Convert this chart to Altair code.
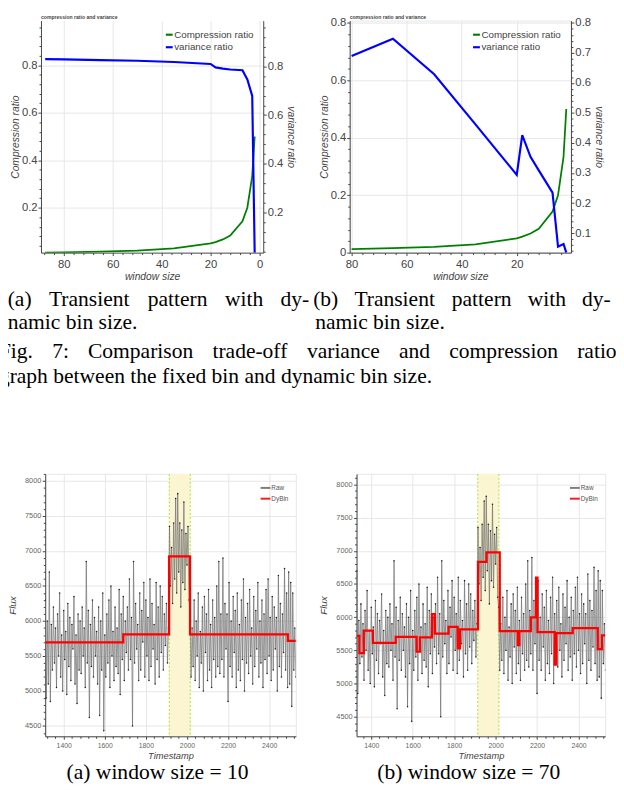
import altair as alt
import pandas as pd

# ---------------- Fig. 7 (a): compression ratio vs variance ratio ----------------
win_a = [89, 80, 65, 50, 35, 20, 18, 15, 12, 7, 5, 3, 2]
comp_a = [0.0112, 0.0125, 0.0154, 0.0200, 0.0286, 0.0500, 0.0556, 0.0667, 0.0833, 0.1429, 0.2000, 0.3333, 0.5000]
var_a = [0.830, 0.829, 0.826, 0.823, 0.818, 0.810, 0.796, 0.791, 0.787, 0.784, 0.746, 0.679, 0.035]
# ---------------- Fig. 7 (b) ----------------
win_b = [80, 65, 50, 35, 20, 18, 15, 12, 7, 5, 3, 2]
comp_b = [0.0125, 0.0154, 0.0200, 0.0286, 0.0500, 0.0556, 0.0667, 0.0833, 0.1429, 0.2000, 0.3333, 0.5000]
var_b = [0.690, 0.747, 0.629, 0.462, 0.294, 0.426, 0.354, 0.309, 0.235, 0.055, 0.064, 0.035]
series_names = ["Compression ratio", "variance ratio"]
series_colors = ["#008000", "#0000ff"]

# ---------------- Fig. 8: raw flux (timestamps 1310, 1315, ...) ----------------
raw_start = 1310
raw_step = 5
raw_flux = [
    6300, 4900, 6000, 5100, 6700, 4850, 5950, 5300, 6200, 5400,
    5900, 5050, 6100, 5500, 6400, 5200, 5800, 5000, 6150, 5450,
    5850, 4950, 6250, 5350, 6050, 5150, 5950, 5600, 6350, 5100,
    5800, 4820, 6100, 5300, 6000, 5250, 6200, 5500, 5900, 5050,
    6850, 5400, 6150, 4620, 5950, 5350, 6300, 5200, 6050, 5500,
    5850, 5100, 6200, 4650, 6000, 5300, 6400, 4430, 5800, 5200,
    6100, 5400, 6300, 5050, 6500, 5500, 5850, 5150, 6200, 5350,
    5900, 5250, 6450, 4950, 6100, 5450, 6350, 5150, 6000, 5550,
    6200, 5300, 6600, 5450, 6050, 4500, 6850, 5400, 6250, 5600,
    5950, 5150, 6400, 5300, 6150, 5700, 6550, 5200, 6300, 5500,
    6050, 5150, 6600, 5350, 6250, 5600, 5950, 5100, 6550, 5450,
    6200, 5200, 6500, 5550, 6350, 5300, 6100, 5650, 6250, 5400,
    5900,
    7350, 6500, 7050, 6250, 7400, 6600, 7750, 6400, 7820, 6700,
    7400, 6200, 7300, 6550, 7700, 6450, 7250, 6800, 7350, 6300,
    6150, 5200, 5900, 5350, 6300, 5150, 6000, 5500, 6400, 5050,
    5850, 5400, 6200, 5000, 6350, 5550, 6100, 5150, 6450, 5300,
    5950, 5050, 6300, 5450, 6050, 5200, 6500, 5350, 6850, 5250,
    6100, 5450, 6900, 5200, 6250, 5600, 6100, 4850, 6550, 5350,
    6000, 5200, 6350, 5550, 6150, 5050, 6400, 5300, 5950, 5150,
    6300, 5450, 6600, 5000, 6050, 5400, 6250, 5250, 6450, 5500,
    5900, 5100, 6350, 5350, 6150, 5600, 6550, 5200, 6000, 5400,
    6300, 5050, 6100, 5450, 6450, 5250, 6600, 5500, 6050, 5150,
    6350, 5300, 6200, 5600, 6050, 5000, 6650, 5350, 6250, 5200,
    6100, 5550, 6750, 5300, 6400, 5050,
    6700, 5100, 6550, 4780, 6400, 5300, 5900, 5200,
]
raw_ts = [raw_start + raw_step * i for i in range(len(raw_flux))]
band_edges = [1914, 2016]
# DyBin, window size = 10
bin_ts_a = [1310, 1690, 1913, 2015, 2491, 2530]
bin_val_a = [5694, 5809, 6924, 5809, 5716, 5716]
# DyBin, window size = 70
bin_ts_b = [1329, 1343, 1364, 1408, 1518, 1619, 1635, 1693, 1707, 1773, 1817, 1828, 1915,
            1956, 2020, 2107, 2115, 2170, 2195, 2202, 2285, 2293, 2372, 2493, 2513, 2530]
bin_val_b = [5717, 5457, 5796, 5614, 5702, 5481, 5694, 6047, 5752, 5855, 5531, 5816, 6832,
             6975, 5790, 5580, 5790, 5997, 6596, 5776, 5285, 5761, 5835, 5517, 5727, 5727]

# ---------------- texts ----------------
panel_title = "compression ratio and variance"
cap_a1 = "(a) Transient pattern with dy-"
cap_b1 = "(b) Transient pattern with dy-"
cap_2 = "namic bin size."
fig_l1 = "Fig. 7: Comparison trade-off variance and compression ratio"
fig_l2 = "graph between the fixed bin and dynamic bin size."
cap_c = "(a) window size = 10"
cap_d = "(b) window size = 70"

FONT = "Liberation Sans"
SERIF = "Liberation Serif"
AX = "#444444"
GRID = "#e6e6e6"


def cond(test, a, b):
    return {"condition": {"test": test, "value": a}, "value": b}


def mult(step):
    return f"abs(datum.value / {step} - round(datum.value / {step})) < 0.000001"


def make_axis(values, step, fmt, title, orient, grid, lab_size, title_size,
              lab_color=AX, tmaj=3, tmin=2, lab_pad=1, title_pad=2, offset=0):
    test = mult(step)
    return alt.Axis(
        values=values, orient=orient, title=title, offset=offset,
        labelExpr=f"{test} ? {fmt} : ''",
        tickSize=cond(test, tmaj, tmin),
        grid=grid, gridColor=GRID, gridOpacity=cond(test, 1, 0),
        domainColor=AX, tickColor=AX, tickWidth=1, domainWidth=1,
        labelColor=lab_color, labelFontSize=lab_size, labelFont=FONT,
        labelPadding=lab_pad, labelFlush=False, labelOverlap=False,
        titleColor=AX, titleFont=FONT, titleFontSize=title_size,
        titleFontStyle="italic", titleFontWeight="normal", titlePadding=title_pad,
    )


FMT1 = "(datum.value == 0 ? '0' : format(datum.value, '.1f'))"
FMTD = "format(datum.value, 'd')"


def ratio_panel(win, comp, var, xdom, xvals, yl_dom, yl_vals, yl_step,
                yr_dom, yr_vals, yr_step, lx, ly, w, h, shift, stroke):
    df = pd.DataFrame({"win": win, "comp": comp, "var": var})
    xax = make_axis(xvals, 20, FMTD, "window size", "bottom", True, 11.5, 10.5,
                    lab_pad=3, title_pad=2)
    x = alt.X("win:Q", scale=alt.Scale(domain=xdom, range=[-shift, w], nice=False, zero=False), axis=xax)
    color = alt.Color(
        "series:N",
        scale=alt.Scale(domain=series_names, range=series_colors),
        legend=alt.Legend(orient="none", legendX=lx, legendY=ly, title=None,
                          symbolType="stroke", symbolSize=49, symbolStrokeWidth=2.2,
                          labelFontSize=10, labelFont=FONT, labelColor=AX,
                          labelOffset=0, rowPadding=2.8, padding=0, labelLimit=300),
    )
    green = alt.Chart(df).transform_calculate(series="'Compression ratio'").mark_line(
        strokeWidth=1.8, clip=True
    ).encode(
        x=x,
        y=alt.Y("comp:Q", scale=alt.Scale(domain=yl_dom, nice=False, zero=False),
                axis=make_axis(yl_vals, yl_step, FMT1, "Compression ratio", "left", True, 11.5, 10.5,
                               lab_pad=1, title_pad=1, offset=shift)),
        color=color,
    )
    blue = alt.Chart(df).transform_calculate(series="'variance ratio'").mark_line(
        strokeWidth=2.2, clip=True
    ).encode(
        x=x,
        y=alt.Y("var:Q", scale=alt.Scale(domain=yr_dom, nice=False, zero=False),
                axis=make_axis(yr_vals, yr_step, FMT1, "variance ratio", "right", False, 11.5, 10.5,
                               lab_pad=1, title_pad=3)),
        color=color,
    )
    title = alt.Chart(pd.DataFrame({"t": [panel_title]})).mark_text(
        align="left", baseline="middle", fontSize=5.2, fontWeight="bold", color=AX, font=FONT
    ).encode(x=alt.value(-shift), y=alt.value(-3.6), text="t:N")
    return alt.layer(green, blue, title).resolve_scale(y="independent").properties(
        width=w, height=h, view=alt.ViewBackground(stroke=stroke)
    )


def flux_panel(bin_ts, bin_val, xdom, ydom, xvals, yvals, lx, ly, w, h, caption, cap_x, cap_y):
    raw_df = pd.DataFrame({"ts": raw_ts, "flux": raw_flux, "kind": "Raw"})
    bin_df = pd.DataFrame({"ts": bin_ts, "flux": bin_val, "kind": "DyBin"})
    band_df = pd.DataFrame({"start": [band_edges[0]], "end": [band_edges[1]]})
    edge_df = pd.DataFrame({"ts": band_edges})
    xsc = alt.Scale(domain=xdom, nice=False, zero=False)
    ysc = alt.Scale(domain=ydom, nice=False, zero=False)
    xax = make_axis(xvals, 200, FMTD, "Timestamp", "bottom", True, 7, 9.5, lab_color="#666666",
                    tmaj=3, tmin=2, lab_pad=2, title_pad=3)
    yax = make_axis(yvals, 500, FMTD, "Flux", "left", True, 7.5, 10, lab_color="#666666",
                    tmaj=3, tmin=2, lab_pad=1.5, title_pad=7.5)
    color = alt.Color(
        "kind:N",
        scale=alt.Scale(domain=["Raw", "DyBin"], range=["#707070", "#ff0000"]),
        legend=alt.Legend(orient="none", legendX=lx, legendY=ly, title=None,
                          symbolType="stroke", symbolSize=100, symbolStrokeWidth=2,
                          labelFontSize=6.5, labelFont=FONT, labelColor="#555555",
                          labelOffset=0, rowPadding=1, padding=0),
    )
    band = alt.Chart(band_df).mark_rect(color="#fbf5d2", clip=True).encode(
        x=alt.X("start:Q", scale=xsc, axis=xax), x2="end:Q"
    )
    edges = alt.Chart(edge_df).mark_rule(color="#a6e22e", strokeDash=[2, 2], strokeWidth=1).encode(
        x=alt.X("ts:Q", scale=xsc, axis=xax)
    )
    line = alt.Chart(raw_df).mark_line(strokeWidth=0.8, opacity=0.9, clip=True).encode(
        x=alt.X("ts:Q", scale=xsc, axis=xax),
        y=alt.Y("flux:Q", scale=ysc, axis=yax),
        color=color,
    )
    pts = alt.Chart(raw_df).mark_circle(size=2.5, color="#111111", opacity=0.9, clip=True).encode(
        x=alt.X("ts:Q", scale=xsc, axis=xax),
        y=alt.Y("flux:Q", scale=ysc, axis=yax),
    )
    dyb = alt.Chart(bin_df).mark_line(strokeWidth=2.3, interpolate="step-after", clip=True).encode(
        x=alt.X("ts:Q", scale=xsc, axis=xax),
        y=alt.Y("flux:Q", scale=ysc, axis=yax),
        color=color,
    )
    cap = alt.Chart(pd.DataFrame({"t": [caption]})).mark_text(
        align="center", baseline="middle", font=SERIF, fontSize=22, color="black"
    ).encode(x=alt.value(cap_x), y=alt.value(cap_y), text="t:N")
    return alt.layer(band, edges, line, pts, dyb, cap).properties(width=w, height=h)


# ---------------- caption layout helpers (Times metrics) ----------------
TIMES = {" ": 250, "(": 333, ")": 333, "-": 333, ".": 250, ":": 278, "=": 564,
         "a": 444, "b": 500, "c": 444, "d": 500, "e": 444, "f": 333, "g": 500, "h": 500,
         "i": 278, "j": 278, "k": 500, "l": 278, "m": 778, "n": 500, "o": 500, "p": 500,
         "q": 500, "r": 333, "s": 389, "t": 278, "u": 500, "v": 500, "w": 722, "x": 500,
         "y": 500, "z": 444, "C": 667, "F": 556, "T": 611}


def tw(s, size):
    return sum(TIMES.get(c, 500) for c in s) * size / 1000.0


def justified(line, left, right, y, size):
    words = line.split(" ")
    widths = [tw(wd, size) for wd in words]
    gap = (right - left - sum(widths)) / (len(words) - 1)
    out, x = [], left
    for wd, wdt in zip(words, widths):
        out.append((wd, x, y))
        x += wdt + gap
    return out


X0 = 44.3          # reference x of the layout origin (left edge of panel (a) bottom)
CAP1_TOP = 281.3   # reference y of the caption block top
CAP1_H = 189.5
W1 = 560
FS = 22


def rx(v):
    return v - X0


def ry(v):
    return v - CAP1_TOP


items = []
items += justified(cap_a1, rx(6), rx(314), ry(298), FS)
items += justified(cap_b1, rx(318), rx(622), ry(298), FS)
items += [(cap_2, rx(6), ry(321)), (cap_2, rx(320), ry(321))]
items += justified(fig_l1, rx(-3), rx(628), ry(351), FS)
items += [(fig_l2, rx(-3), ry(376))]
df_cap = pd.DataFrame(items, columns=["t", "x", "y"])
cap1 = alt.Chart(df_cap).mark_text(
    align="left", baseline="middle", font=SERIF, fontSize=FS, color="black"
).encode(
    x=alt.X("x:Q", scale=alt.Scale(domain=[0, W1], range=[0, W1]), axis=None),
    y=alt.Y("y:Q", scale=alt.Scale(domain=[0, CAP1_H], range=[0, CAP1_H]), axis=None),
    text="t:N",
).properties(width=W1, height=CAP1_H, view=alt.ViewBackground(stroke=None))

# ---------------- panels ----------------
x_ticks_a = list(range(0, 89, 4))
x_ticks_b = list(range(4, 81, 4))
y04 = [round(0.04 * k, 2) for k in range(1, 25)]
y04b = [round(0.04 * k, 2) for k in range(0, 21)]
y02b = [round(0.02 * k, 2) for k in range(2, 41)]

A = ratio_panel(win_a, comp_a, var_a, [89.3, -1.5], x_ticks_a,
                [0.011, 0.988], y04, 0.2, [0.035, 0.988], y04, 0.2,
                121.7, 9.4, 222.7, 237, 4.3, None)
B = ratio_panel(win_b, comp_b, var_b, [80.7, 0.3], x_ticks_b,
                [0.0, 0.808], y04b, 0.2, [0.035, 0.8075], y02b, 0.1,
                124.5, 9.4, 226, 237, 0, GRID)
C = flux_panel(bin_ts_a, bin_val_a, [1310, 2530], [4352, 8102],
               list(range(1320, 2530, 40)), list(range(4400, 8101, 100)), 219, 8.3, 256, 268,
               cap_c, 159 - 44.3, 779.5 - 475)
D = flux_panel(bin_ts_b, bin_val_b, [1329, 2529], [4205, 8158],
               list(range(1360, 2529, 40)), list(range(4300, 8101, 100)), 217, 8.3, 254, 268,
               cap_d, 473 - 358.3, 779.5 - 475)

row1 = alt.hconcat(A, B, spacing=23).resolve_scale(color="independent").resolve_legend(color="independent")
row3 = alt.hconcat(C, D, spacing=21).resolve_scale(color="independent").resolve_legend(color="independent")

chart = alt.vconcat(row1, cap1, row3, spacing=0).resolve_scale(
    color="independent"
).resolve_legend(color="independent").properties(
    padding={"left": -10, "top": -2.5, "right": -1, "bottom": 0}, background="white"
).configure_view(stroke=GRID)

chart.save("out.html", embed_options={"renderer": "svg", "actions": False})
